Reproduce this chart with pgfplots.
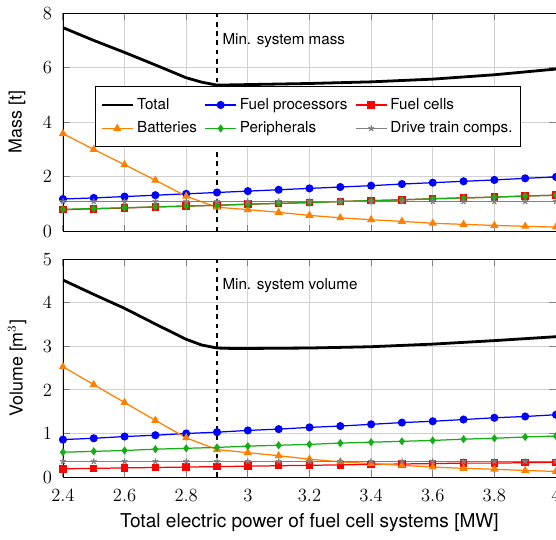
\documentclass[border=0pt]{standalone}
\usepackage{pgfplots}
\pgfplotsset{compat=1.18}
\usepackage[no-math]{fontspec}
\setmainfont{TeX Gyre Heros}
\definecolor{cgreen}{RGB}{20,175,20}
\definecolor{corange}{RGB}{255,128,0}
\pgfplotstableread{
x total
2.4 7.47
2.5 7.0
2.6 6.56
2.7 6.1
2.8 5.63
2.85 5.47
2.9 5.36
2.95 5.37
3.0 5.38
3.2 5.42
3.4 5.48
3.6 5.58
3.8 5.74
4.0 5.95
}\masstotal
\pgfplotstableread{
x fp fc bat per dt
2.4 1.18 0.79 3.58 0.80 1.09
2.5 1.22 0.82 3.00 0.83 1.09
2.6 1.27 0.85 2.44 0.86 1.09
2.7 1.32 0.89 1.87 0.89 1.09
2.8 1.37 0.92 1.28 0.92 1.09
2.9 1.42 0.95 0.88 0.95 1.09
3.0 1.47 0.99 0.79 0.99 1.09
3.1 1.52 1.02 0.69 1.02 1.09
3.2 1.57 1.05 0.58 1.05 1.09
3.3 1.62 1.09 0.49 1.09 1.09
3.4 1.67 1.12 0.42 1.12 1.09
3.5 1.73 1.15 0.36 1.15 1.09
3.6 1.78 1.19 0.29 1.19 1.09
3.7 1.83 1.22 0.25 1.22 1.09
3.8 1.88 1.25 0.21 1.25 1.09
3.9 1.94 1.29 0.18 1.29 1.09
4.0 1.99 1.32 0.15 1.32 1.09
}\mass
\pgfplotstableread{
x total
2.4 4.52
2.5 4.19
2.6 3.87
2.7 3.51
2.8 3.16
2.85 3.03
2.9 2.96
2.95 2.95
3.0 2.95
3.2 2.96
3.4 2.99
3.6 3.05
3.8 3.13
4.0 3.22
}\voltotal
\pgfplotstableread{
x fp fc bat per dt
2.4 0.86 0.19 2.53 0.57 0.36
2.5 0.89 0.20 2.12 0.59 0.36
2.6 0.93 0.21 1.71 0.61 0.36
2.7 0.96 0.22 1.30 0.64 0.36
2.8 1.00 0.23 0.90 0.66 0.36
2.9 1.03 0.24 0.63 0.68 0.36
3.0 1.07 0.25 0.56 0.71 0.36
3.1 1.10 0.26 0.49 0.73 0.36
3.2 1.14 0.27 0.41 0.75 0.36
3.3 1.17 0.28 0.35 0.78 0.36
3.4 1.21 0.29 0.31 0.80 0.36
3.5 1.25 0.30 0.27 0.82 0.36
3.6 1.28 0.31 0.23 0.84 0.36
3.7 1.32 0.32 0.20 0.87 0.36
3.8 1.36 0.32 0.18 0.89 0.36
3.9 1.39 0.33 0.15 0.92 0.36
4.0 1.43 0.34 0.13 0.94 0.36
}\vol
\begin{document}
\begin{tikzpicture}
\pgfplotsset{
  myaxis/.style={
    scale only axis, width=318pt, height=140.6pt,
    xmin=2.4, xmax=4, grid=major,
    grid style={gray!35, line width=0.6pt},
    xtick={2.4,2.6,...,4.01},
    tick style={gray, line width=0.6pt},
    axis line style={black},
    /pgf/number format/assume math mode=true,
    tick label style={font=\fontfamily{lmr}\fontsize{12}{14}\selectfont},
    xticklabel style={yshift=-4pt},
    yticklabel style={xshift=-3.5pt},
    xlabel style={font=\fontsize{12.3}{14}\selectfont, at={(axis description cs:0.5,-0.211)}, anchor=center},
    ylabel style={font=\fontsize{11.5}{14}\selectfont, at={(axis description cs:-0.093,0.5)}, rotate=0, anchor=center},
  },
  fp/.style={blue, thick, mark=*, mark size=2.2pt},
  fc/.style={red, thick, mark=square*, mark size=2pt},
  bat/.style={corange, thick, mark=triangle*, mark size=2.3pt},
  per/.style={cgreen, thick, mark=diamond*, mark size=2pt},
  dt/.style={gray, thick, mark=star, mark size=2pt},
  tot/.style={black, line width=1.8pt, no marks},
}
\begin{axis}[myaxis, name=bot, at={(0,0)}, anchor=south west,
  ymin=0, ymax=5, ytick={0,1,...,5},
  xlabel={Total electric power of fuel cell systems [MW]},
  ylabel={Volume [m$^3$]},
]
\addplot[tot] table[x=x,y=total]{\voltotal};
\addplot[fp] table[x=x,y=fp]{\vol};
\addplot[fc] table[x=x,y=fc]{\vol};
\addplot[bat] table[x=x,y=bat]{\vol};
\addplot[per] table[x=x,y=per]{\vol};
\addplot[dt] table[x=x,y=dt]{\vol};
\draw[black, dashed, line width=1pt] (axis cs:2.9,0) -- (axis cs:2.9,5);
\node[anchor=west, font=\fontsize{9.8}{12}\selectfont] at (axis cs:2.9,4.39) {Min. system volume};
\end{axis}
\begin{axis}[myaxis, name=top, at={(0,158.6pt)}, anchor=south west,
  ymin=0, ymax=8, ytick={0,2,...,8},
  xticklabels={},
  ylabel={Mass [t]},
  legend columns=3,
  legend image code/.code={\draw[mark repeat=2,mark phase=2,#1] plot coordinates {(0cm,0cm) (0.35cm,0cm) (0.7cm,0cm)};},
  legend style={at={(0.497,0.525)}, anchor=center, draw=black, line width=0.6pt,
    font=\fontsize{9.8}{12}\selectfont, inner xsep=3pt, inner ysep=5.5pt, row sep=2.5pt,
    /tikz/every even column/.append style={column sep=3pt}},
  legend cell align=left,
]
\addplot[tot] table[x=x,y=total]{\masstotal};
\addlegendentry{Total}
\addplot[fp] table[x=x,y=fp]{\mass};
\addlegendentry{Fuel processors}
\addplot[fc] table[x=x,y=fc]{\mass};
\addlegendentry{Fuel cells}
\addplot[bat] table[x=x,y=bat]{\mass};
\addlegendentry{Batteries}
\addplot[per] table[x=x,y=per]{\mass};
\addlegendentry{Peripherals}
\addplot[dt] table[x=x,y=dt]{\mass};
\addlegendentry{Drive train comps.}
\draw[black, dashed, line width=1pt] (axis cs:2.9,0) -- (axis cs:2.9,8);
\node[anchor=west, font=\fontsize{9.8}{12}\selectfont] at (axis cs:2.9,6.98) {Min. system mass};
\end{axis}
\pgfresetboundingbox
\path (-40.6pt,-40pt) rectangle (318pt,307.7pt);
\end{tikzpicture}
\end{document}
